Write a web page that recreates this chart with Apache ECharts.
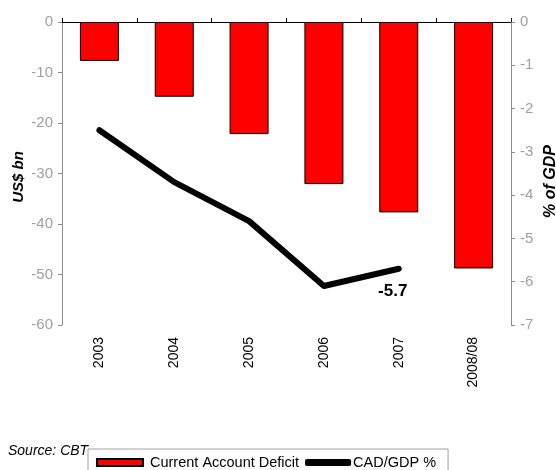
<!DOCTYPE html>
<html>
<head>
<meta charset="utf-8">
<script src="https://cdn.jsdelivr.net/npm/echarts@6/dist/echarts.min.js"></script>
<style>
  html, body { margin: 0; padding: 0; background: #fff; }
  #chart { width: 556px; height: 470px; }
</style>
</head>
<body>
<div id="chart"></div>
<script>
// Turkey current account deficit (US$ bn) and CAD as % of GDP
const years = ['2003', '2004', '2005', '2006', '2007', '2008/08'];
const deficitBn = [-7.7, -14.8, -22.2, -32.1, -37.7, -48.8];
const cadGdpPct = [-2.5, -3.7, -4.6, -6.1, -5.7];
const leftTicks = { min: -60, max: 0, interval: 10 };
const rightTicks = { min: -7, max: 0, interval: 1 };

const FONT = '"Liberation Sans", Arial, sans-serif';
const GREY = '#a0a0a0';
const AXIS_GREY = '#8c8c8c';

// only the latest ratio carries a value label
const lineData = cadGdpPct.map((v, i) => i === cadGdpPct.length - 1
  ? { value: v, label: { show: true } }
  : v);

const chart = echarts.init(document.getElementById('chart'), null, { renderer: 'canvas' });

chart.setOption({
  backgroundColor: '#ffffff',
  animation: false,
  textStyle: { fontFamily: FONT },
  grid: {
    left: 62, right: 45, top: 22, bottom: 145,
    containLabel: false,
    outerBoundsMode: 'none'
  },
  xAxis: [
    {
      type: 'category',
      data: years,
      position: 'top',
      boundaryGap: true,
      axisLine: { show: true, lineStyle: { color: '#000', width: 1 } },
      axisTick: { show: true, length: 4, lineStyle: { color: '#000' } },
      axisLabel: { show: false },
      splitLine: { show: false }
    },
    {
      type: 'category',
      data: years,
      position: 'bottom',
      boundaryGap: true,
      axisLine: { show: false },
      axisTick: { show: false },
      axisLabel: {
        show: true, rotate: 90, margin: 12,
        color: '#000', fontSize: 14, fontFamily: FONT
      },
      splitLine: { show: false }
    }
  ],
  yAxis: [
    {
      type: 'value',
      position: 'left',
      min: leftTicks.min, max: leftTicks.max, interval: leftTicks.interval,
      name: 'US$ bn',
      nameLocation: 'middle',
      nameRotate: 90,
      nameGap: 36,
      nameMoveOverlap: false,
      nameTextStyle: {
        color: '#000', fontSize: 15, fontWeight: 'bold', fontStyle: 'italic',
        fontFamily: FONT, padding: [0, 7, 0, 0]
      },
      axisLine: { show: true, lineStyle: { color: AXIS_GREY } },
      axisTick: { show: true, length: 4, lineStyle: { color: AXIS_GREY } },
      axisLabel: { color: GREY, fontSize: 15, margin: 9, fontFamily: FONT },
      splitLine: { show: false }
    },
    {
      type: 'value',
      position: 'right',
      min: rightTicks.min, max: rightTicks.max, interval: rightTicks.interval,
      name: '% of GDP',
      nameLocation: 'middle',
      nameRotate: 90,
      nameGap: 32,
      nameMoveOverlap: false,
      nameTextStyle: {
        color: '#000', fontSize: 16, fontWeight: 'bold', fontStyle: 'italic',
        fontFamily: FONT, padding: [0, 16, 0, 0]
      },
      axisLine: { show: true, lineStyle: { color: AXIS_GREY } },
      axisTick: { show: true, length: 4, lineStyle: { color: AXIS_GREY } },
      axisLabel: { color: GREY, fontSize: 15, margin: 9, fontFamily: FONT },
      splitLine: { show: false }
    }
  ],
  legend: {
    left: 88,
    top: 449,
    padding: [6, 12, 8, 8],
    borderColor: '#a0a0a0',
    borderWidth: 1,
    borderRadius: 0,
    itemWidth: 46,
    itemHeight: 7,
    itemGap: 6,
    textStyle: { color: '#000', fontSize: 14.5, fontFamily: FONT },
    data: [
      { name: 'Current Account Deficit', icon: 'rect', textStyle: { padding: [0, 0, 0, 2] } },
      { name: 'CAD/GDP %', icon: 'roundRect', textStyle: { padding: [0, 0, 0, -3] } }
    ]
  },
  graphic: [
    {
      type: 'text',
      left: 8,
      top: 444,
      style: { text: 'Source: CBT', fill: '#000', font: 'italic 14px ' + FONT }
    }
  ],
  series: [
    {
      name: 'Current Account Deficit',
      type: 'bar',
      xAxisIndex: 0,
      yAxisIndex: 0,
      data: deficitBn,
      barWidth: 39,
      itemStyle: { color: '#ff0000', borderColor: '#000', borderWidth: 1 }
    },
    {
      name: 'CAD/GDP %',
      type: 'line',
      xAxisIndex: 0,
      yAxisIndex: 1,
      data: lineData,
      symbol: 'circle',
      symbolSize: 1,
      showSymbol: true,
      lineStyle: { color: '#000', width: 6, cap: 'round', join: 'round' },
      itemStyle: { color: '#000', borderWidth: 0 },
      label: {
        show: false,
        position: 'bottom',
        distance: 14,
        offset: [-6, 0],
        color: '#000',
        fontSize: 17,
        fontWeight: 'bold',
        fontFamily: FONT,
        formatter: (p) => p.value.toFixed(1)
      },
      z: 5
    }
  ]
});
</script>
</body>
</html>
